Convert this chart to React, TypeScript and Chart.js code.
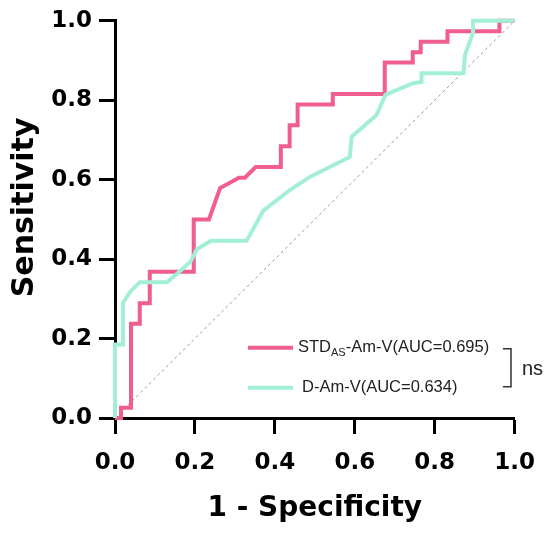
import React, { useEffect, useRef } from "react";
import { Chart, registerables } from "chart.js";

Chart.register(...registerables);

// ROC curve: STD_AS-Am-V
const stdFpr = [0, 0.015, 0.015, 0.04, 0.04, 0.062, 0.062, 0.087, 0.087, 0.197, 0.197, 0.235, 0.263, 0.31, 0.325, 0.352, 0.415, 0.415, 0.437, 0.437, 0.457, 0.457, 0.545, 0.545, 0.675, 0.675, 0.745, 0.745, 0.765, 0.765, 0.832, 0.832, 0.962, 0.962, 1];
const stdTpr = [0, 0, 0.026, 0.026, 0.237, 0.237, 0.289, 0.289, 0.368, 0.368, 0.5, 0.5, 0.579, 0.605, 0.605, 0.632, 0.632, 0.684, 0.684, 0.737, 0.737, 0.789, 0.789, 0.816, 0.816, 0.895, 0.895, 0.921, 0.921, 0.947, 0.947, 0.974, 0.974, 1, 1];

// ROC curve: D-Am-V
const dFpr = [0, 0, 0.02, 0.02, 0.038, 0.062, 0.13, 0.163, 0.19, 0.205, 0.24, 0.329, 0.371, 0.4375, 0.4875, 0.5875, 0.592, 0.654, 0.677, 0.746, 0.767, 0.767, 0.872, 0.876, 0.896, 0.896, 1];
const dTpr = [0, 0.185, 0.185, 0.29, 0.318, 0.342, 0.342, 0.37, 0.395, 0.425, 0.446, 0.446, 0.522, 0.574, 0.607, 0.657, 0.708, 0.762, 0.814, 0.843, 0.846, 0.868, 0.868, 0.915, 0.97, 1, 1];

// Reference diagonal
const refX = [0, 1];
const refY = [0, 1];

const axisTicks = [0, 0.2, 0.4, 0.6, 0.8, 1.0];

const stdLabelMain = "STD";
const stdLabelSub = "AS";
const stdLabelRest = "-Am-V(AUC=0.695)";
const dLabel = "D-Am-V(AUC=0.634)";
const sigLabel = "ns";
const xTitle = "1 - Specificity";
const yTitle = "Sensitivity";

const PINK = "#EF5E8D";
const CYAN = "#A3EFD6";

const toPoints = (xs: number[], ys: number[]) => xs.map((x, i) => ({ x, y: ys[i] }));

const legendPlugin = {
  id: "rocLegend",
  afterDraw(chart: any) {
    const { ctx, chartArea: a } = chart;
    ctx.save();
    const x0 = a.left + 133;
    const x1 = a.left + 178;
    const y1 = a.top + 327;
    const y2 = a.top + 367;
    ctx.lineWidth = 4;
    ctx.strokeStyle = PINK;
    ctx.beginPath();
    ctx.moveTo(x0, y1);
    ctx.lineTo(x1, y1);
    ctx.stroke();
    ctx.strokeStyle = CYAN;
    ctx.beginPath();
    ctx.moveTo(x0, y2);
    ctx.lineTo(x1, y2);
    ctx.stroke();

    ctx.fillStyle = "#222";
    ctx.textBaseline = "middle";
    ctx.textAlign = "left";
    ctx.font = "16.5px 'Liberation Sans', Arial, sans-serif";
    let tx = a.left + 183;
    ctx.fillText(stdLabelMain, tx, y1);
    tx += ctx.measureText(stdLabelMain).width;
    ctx.font = "11px 'Liberation Sans', Arial, sans-serif";
    ctx.fillText(stdLabelSub, tx, y1 + 5);
    tx += ctx.measureText(stdLabelSub).width;
    ctx.font = "16.5px 'Liberation Sans', Arial, sans-serif";
    ctx.fillText(stdLabelRest, tx, y1);
    ctx.fillText(dLabel, a.left + 187, y2);

    // bracket
    ctx.strokeStyle = "#333";
    ctx.lineWidth = 1.5;
    ctx.beginPath();
    ctx.moveTo(a.left + 388, a.top + 328);
    ctx.lineTo(a.left + 396, a.top + 328);
    ctx.lineTo(a.left + 396, a.top + 366);
    ctx.lineTo(a.left + 388, a.top + 366);
    ctx.stroke();
    ctx.font = "20px 'Liberation Sans', Arial, sans-serif";
    ctx.fillText(sigLabel, a.left + 407, a.top + 349);

    // y-axis title
    ctx.fillStyle = "#000";
    ctx.font = "bold 30px 'DejaVu Sans', sans-serif";
    ctx.textAlign = "center";
    ctx.translate(a.left - 90, (a.top + a.bottom) / 2 - 12);
    ctx.rotate(-Math.PI / 2);
    ctx.fillText(yTitle, 0, 0);
    ctx.restore();
  },
};

export default function App() {
  const ref = useRef<HTMLCanvasElement>(null);
  useEffect(() => {
    if (!ref.current) return;
    const tickFont = { family: "'DejaVu Sans', sans-serif", size: 23, weight: "bold" as const };
    const axisCommon = {
      type: "linear" as const,
      min: 0,
      max: 1,
      afterBuildTicks: (s: any) => {
        s.ticks = axisTicks.map((v) => ({ value: v }));
      },
      border: { display: true, color: "#000", width: 3 },
      grid: {
        display: true,
        drawOnChartArea: false,
        drawTicks: true,
        tickLength: 16,
        tickWidth: 3,
        tickColor: "#000",
        color: "#000",
      },
    };
    const chart = new Chart(ref.current, {
      type: "line",
      data: {
        datasets: [
          {
            label: "D-Am-V",
            data: toPoints(dFpr, dTpr),
            borderColor: CYAN,
            borderWidth: 4,
            pointRadius: 0,
            tension: 0,
            fill: false,
            clip: false as any,
            order: 1,
          },
          {
            label: "STD-Am-V",
            data: toPoints(stdFpr, stdTpr),
            borderColor: PINK,
            borderWidth: 4,
            pointRadius: 0,
            tension: 0,
            fill: false,
            clip: false as any,
            order: 2,
          },
          {
            label: "ref",
            data: toPoints(refX, refY),
            borderColor: "#9a9a9a",
            borderWidth: 1,
            borderDash: [3, 3],
            pointRadius: 0,
            fill: false,
            order: 3,
          },
        ],
      },
      options: {
        responsive: false,
        animation: false,
        parsing: false as any,
        layout: { padding: { top: 15, right: 34, left: 0, bottom: 0 } },
        plugins: { legend: { display: false }, tooltip: { enabled: false } },
        scales: {
          x: {
            ...axisCommon,
            afterFit: (s: any) => {
              s.height = 115;
            },
            ticks: {
              color: "#000",
              font: tickFont,
              padding: 15,
              maxRotation: 0,
              callback: (v: any) => Number(v).toFixed(1),
            },
            title: {
              display: true,
              text: xTitle,
              color: "#000",
              font: { family: "'DejaVu Sans', sans-serif", size: 28, weight: "bold" },
              padding: { top: 0, bottom: 7 },
            },
          },
          y: {
            ...axisCommon,
            afterFit: (s: any) => {
              s.width = 115;
            },
            ticks: {
              color: "#000",
              font: tickFont,
              padding: 7,
              callback: (v: any) => Number(v).toFixed(1),
            },
            title: { display: false },
          },
        },
      },
      plugins: [legendPlugin],
    });
    return () => chart.destroy();
  }, []);
  return (
    <div style={{ position: "fixed", left: 0, top: 0, width: 550, height: 533, background: "#fff" }}>
      <canvas ref={ref} width={550} height={533} />
    </div>
  );
}
